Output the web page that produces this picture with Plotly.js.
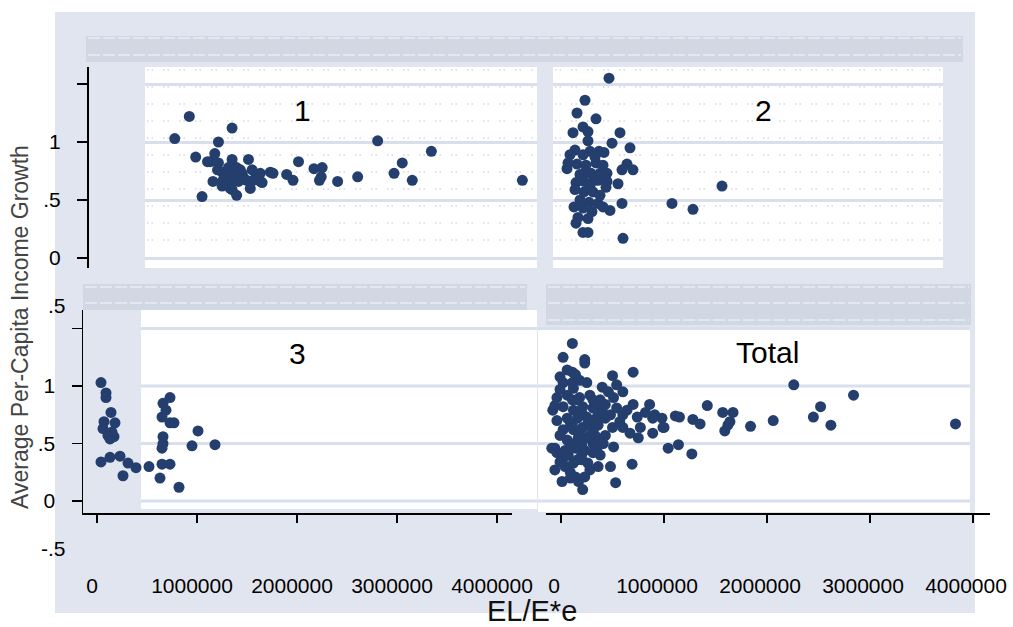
<!DOCTYPE html>
<html><head><meta charset="utf-8">
<script src="https://cdn.plot.ly/plotly-3.0.1.min.js"></script>
<style>html,body{margin:0;padding:0;background:#fff}#chart{width:1013px;height:627px}</style>
</head><body><div id="chart"></div>
<script>
// ---- Data (EL/E*e vs Average Per-Capita Income Growth) ----
const g1x = [30000,190000,260000,330000,390000,420000,470000,510000,510000,500000,450000,550000,600000,560000,560000,550000,660000,660000,710000,670000,640000,640000,660000,710000,730000,770000,780000,840000,820000,880000,860000,890000,930000,970000,970000,990000,1080000,1110000,1260000,1330000,1390000,1560000,1650000,1640000,1620000,1820000,2040000,2260000,2440000,2530000,2640000,2850000,3850000,620000,750000];
const g1y = [1.03,1.22,0.87,0.53,0.83,0.83,0.90,1.00,0.82,0.76,0.66,0.74,0.72,0.67,0.63,0.62,1.12,0.85,0.78,0.72,0.66,0.60,0.59,0.54,0.66,0.73,0.70,0.85,0.67,0.76,0.60,0.67,0.70,0.73,0.66,0.65,0.74,0.73,0.72,0.67,0.83,0.77,0.78,0.70,0.67,0.66,0.70,1.01,0.73,0.82,0.67,0.92,0.67,0.78,0.76];

const g2x = [460000,220000,140000,330000,100000,200000,250000,570000,250000,490000,670000,120000,70000,270000,360000,410000,50000,140000,40000,230000,330000,400000,640000,590000,700000,170000,280000,370000,440000,130000,210000,310000,440000,430000,550000,120000,210000,300000,170000,260000,350000,110000,200000,290000,400000,470000,590000,150000,250000,130000,200000,250000,600000,1090000,1300000,1590000,200000,350000,270000,370000,220000,320000];
const g2y = [1.55,1.36,1.25,1.20,1.08,1.13,1.09,1.08,1.01,0.99,0.95,0.93,0.89,0.92,0.92,0.91,0.82,0.81,0.77,0.80,0.82,0.80,0.81,0.76,0.76,0.72,0.73,0.73,0.73,0.65,0.66,0.67,0.66,0.61,0.64,0.59,0.57,0.57,0.50,0.48,0.47,0.44,0.43,0.40,0.44,0.41,0.47,0.35,0.34,0.30,0.22,0.22,0.17,0.47,0.42,0.62,0.89,0.67,0.62,0.54,0.74,0.87];

const g3x = [40000,90000,90000,140000,70000,180000,60000,110000,170000,130000,150000,40000,130000,230000,310000,390000,260000,520000,630000,820000,660000,730000,690000,650000,730000,770000,660000,660000,650000,650000,730000,1010000,950000,1180000];
const g3y = [1.03,0.94,0.90,0.77,0.69,0.68,0.63,0.57,0.56,0.54,0.60,0.34,0.38,0.39,0.33,0.29,0.22,0.30,0.20,0.12,0.85,0.90,0.79,0.73,0.68,0.68,0.56,0.50,0.46,0.32,0.32,0.61,0.48,0.49];

const totx = [110000,20000,230000,230000,110000,-10000,140000,500000,700000,540000,400000,600000,20000,120000,250000,-40000,60000,180000,280000,510000,-80000,20000,120000,210000,310000,430000,540000,700000,860000,-40000,60000,160000,250000,350000,480000,600000,740000,890000,20000,120000,210000,310000,500000,600000,770000,670000,750000,890000,60000,160000,250000,360000,-60000,40000,140000,230000,350000,510000,-40000,70000,200000,380000,-10000,120000,260000,360000,480000,690000,-60000,40000,140000,230000,10000,90000,530000,210000,-10000,110000,180000,90000,280000,310000,160000,1000000,-90000,2260000,2840000,2520000,2450000,2620000,3830000,2060000,1840000,1420000,1570000,1670000,1640000,1620000,1590000,1280000,1350000,1110000,1150000,1040000,1140000,1270000,910000,980000,990000,820000,380000,330000,
  -60000,160000,310000,400000,200000,110000,250000,360000,-10000,170000,280000,430000,90000,200000,310000,410000,20000,200000,280000,90000,170000,430000,570000,640000,460000,180000,60000,110000,360000];
const toty = [1.37,1.25,1.23,1.20,1.12,1.08,1.10,1.09,1.12,1.01,0.99,0.95,1.03,0.98,1.03,0.90,0.92,0.90,0.92,0.90,0.79,0.82,0.79,0.82,0.81,0.84,0.81,0.84,0.84,0.70,0.72,0.72,0.73,0.73,0.75,0.75,0.73,0.72,0.62,0.62,0.64,0.62,0.64,0.64,0.64,0.59,0.55,0.59,0.53,0.53,0.55,0.53,0.46,0.44,0.46,0.44,0.46,0.47,0.42,0.40,0.40,0.40,0.34,0.33,0.33,0.30,0.30,0.32,0.27,0.30,0.21,0.21,0.17,0.20,0.16,0.10,0.97,0.88,0.59,0.68,0.68,0.50,0.36,0.64,0.46,1.01,0.92,0.82,0.73,0.66,0.67,0.70,0.65,0.83,0.77,0.77,0.69,0.66,0.61,0.71,0.67,0.74,0.73,0.46,0.49,0.41,0.75,0.72,0.64,0.77,0.88,0.57,
  0.83,0.88,0.88,0.79,0.77,0.66,0.66,0.66,0.57,0.56,0.57,0.57,0.49,0.49,0.42,0.50,0.37,0.36,0.27,0.25,0.17,0.72,0.69,0.79,0.95,1.05,1.14,1.03,0.86];

const panelLabels = ['1','2','3','Total'];
const yTickVals = [0, 0.5, 1, 1.5];
const yTickText = ['0', '.5', '1', ''];
const xTickVals = [0, 1000000, 2000000, 3000000, 4000000];
const xTickText = ['0', '1000000', '2000000', '3000000', '4000000'];
const yTitle = 'Average Per-Capita Income Growth';
const xTitle = 'EL/E*e';

// ---- Layout helpers ----
const W = 1013, H = 627;
const px = v => v / W;
const py = v => 1 - v / H;
const FONT = 'Liberation Sans, Arial, sans-serif';
const BG = '#e1e5ef', STRIP = '#d2d8e3', GRID = '#d9dfeb', MK = '#243f6e';

const mk = {size: 11, color: MK, line: {width: 0}};
const traces = [
  {x: g1x, y: g1y, xaxis: 'x', yaxis: 'y', type: 'scatter', mode: 'markers', marker: mk},
  {x: g2x, y: g2y, xaxis: 'x2', yaxis: 'y2', type: 'scatter', mode: 'markers', marker: mk},
  {x: g3x, y: g3y, xaxis: 'x3', yaxis: 'y3', type: 'scatter', mode: 'markers', marker: mk},
  {x: totx, y: toty, xaxis: 'x4', yaxis: 'y4', type: 'scatter', mode: 'markers', marker: mk}
];

const hiddenX = (dom, rng, anchor) => ({domain: dom, range: rng, anchor: anchor, showline: false, showticklabels: false, ticks: '', showgrid: false, zeroline: false, fixedrange: true});
const gridY = (dom, rng, anchor, grid) => ({domain: dom, range: rng, anchor: anchor, showline: false, showticklabels: false, ticks: '', showgrid: grid, gridcolor: GRID, gridwidth: 3, tickvals: yTickVals, zeroline: false, fixedrange: true});
const shownY = (extra) => Object.assign({
  showline: true, linecolor: '#000', linewidth: 1.5, ticks: 'outside', ticklen: 10, tickwidth: 1.5, tickcolor: '#000',
  tickvals: yTickVals, ticktext: yTickText, tickfont: {family: FONT, size: 21, color: '#000'},
  showgrid: true, gridcolor: GRID, gridwidth: 3, zeroline: false, fixedrange: true, ticklabelstandoff: 12
}, extra);
const shownX = (extra) => Object.assign({
  showline: true, linecolor: '#000', linewidth: 1.5, ticks: 'outside', ticklen: 8, tickwidth: 1.5, tickcolor: '#000',
  tickvals: xTickVals, ticktext: xTickText, tickfont: {family: FONT, size: 21, color: '#000'},
  showgrid: false, zeroline: false, fixedrange: true, ticklabelstandoff: 45, ticklabelshift: -5
}, extra);

const topY = [py(268), py(67)], topYR = [-0.0862, 1.6466];
const botY = [py(513), py(310)], botYR = [-0.104, 1.661];

const shapes = [];
const rect = (x0, y0, x1, y1, color, layer) => shapes.push({type: 'rect', xref: 'paper', yref: 'paper', x0: px(x0), x1: px(x1), y0: py(y1), y1: py(y0), fillcolor: color, line: {width: 0}, layer: layer || 'below'});
const hline = (x0, x1, y, color, width, dash) => shapes.push({type: 'line', xref: 'paper', yref: 'paper', x0: px(x0), x1: px(x1), y0: py(y), y1: py(y), line: {color: color, width: width, dash: dash}, layer: 'below'});
const gridShape = (x0, x1, yref, v) => shapes.push({type: 'line', xref: 'paper', yref: yref, x0: px(x0), x1: px(x1), y0: v, y1: v, line: {color: GRID, width: 3}, layer: 'below'});

rect(55, 12, 975, 613, BG);
rect(145, 67, 537, 268, '#ffffff');
rect(553, 67, 943, 268, '#ffffff');
rect(141, 310, 537, 509, '#ffffff');
rect(538, 328, 970, 512, '#ffffff');
rect(86, 36, 963, 62, STRIP);
rect(83, 284, 527, 310, STRIP);
rect(546, 284, 971, 325, STRIP);
// faint texture rows in the strips
[38, 55].forEach(y => hline(88, 961, y, '#e3e7ef', 2, '12px,3px'));
[287, 303].forEach(y => hline(85, 525, y, '#e3e7ef', 2, '12px,3px'));
[287, 303, 320].forEach(y => hline(548, 969, y, '#e3e7ef', 2, '12px,3px'));
// dotted rows in the top panels
[70, 87, 104, 121, 138, 155, 172, 189, 206, 223, 240].forEach(y => {
  hline(147, 535, y, '#d3d8e2', 1.5, '1.5px,3px,1.5px,10px');
  hline(555, 941, y, '#d3d8e2', 1.5, '1.5px,3px,1.5px,10px');
});
// grid lines of the lower panels, only across their white areas
yTickVals.forEach(v => { gridShape(141, 537, 'y3', v); gridShape(538, 970, 'y4', v); });

const ann = (text, x, y, size, opts) => Object.assign({text: text, xref: 'paper', yref: 'paper', x: px(x), y: py(y), showarrow: false, xanchor: 'center', yanchor: 'middle', font: {family: FONT, size: size, color: '#000'}}, opts || {});
const annotations = [
  ann(panelLabels[0], 302, 110, 30),
  ann(panelLabels[1], 763, 110, 30),
  ann(panelLabels[2], 297, 353, 30),
  ann(panelLabels[3], 767, 352, 30),
  ann(yTitle, 20, 327, 23, {textangle: -90, font: {family: FONT, size: 23, color: '#444'}}),
  ann(xTitle, 532, 611, 29, {font: {family: FONT, size: 29, color: '#111'}}),
  ann('.5', 68, 305, 21, {xanchor: 'right'}),
  ann('-.5', 68, 548, 21, {xanchor: 'right'})
];

const layout = {
  width: W, height: H, margin: {l: 0, r: 0, t: 0, b: 0},
  paper_bgcolor: '#ffffff', plot_bgcolor: 'rgba(0,0,0,0)',
  showlegend: false, hovermode: false,
  font: {family: FONT},
  xaxis: hiddenX([px(145), px(537)], [-297000, 4011000], 'y'),
  yaxis: shownY({domain: topY, range: topYR, anchor: 'free', position: px(87)}),
  xaxis2: hiddenX([px(553), px(943)], [-100000, 3800000], 'y2'),
  yaxis2: gridY(topY, topYR, 'x2', true),
  xaxis3: shownX({domain: [px(83), px(512)], range: [-140000, 4150000], anchor: 'y3'}),
  yaxis3: shownY({domain: botY, range: botYR, anchor: 'x3', showgrid: false}),
  xaxis4: shownX({domain: [px(546), px(990)], range: [-146000, 4165000], anchor: 'y4', ticklabelshift: -7}),
  yaxis4: gridY(botY, botYR, 'x4', false),
  shapes: shapes,
  annotations: annotations
};

Plotly.newPlot('chart', traces, layout, {staticPlot: true, displayModeBar: false});
</script></body></html>
